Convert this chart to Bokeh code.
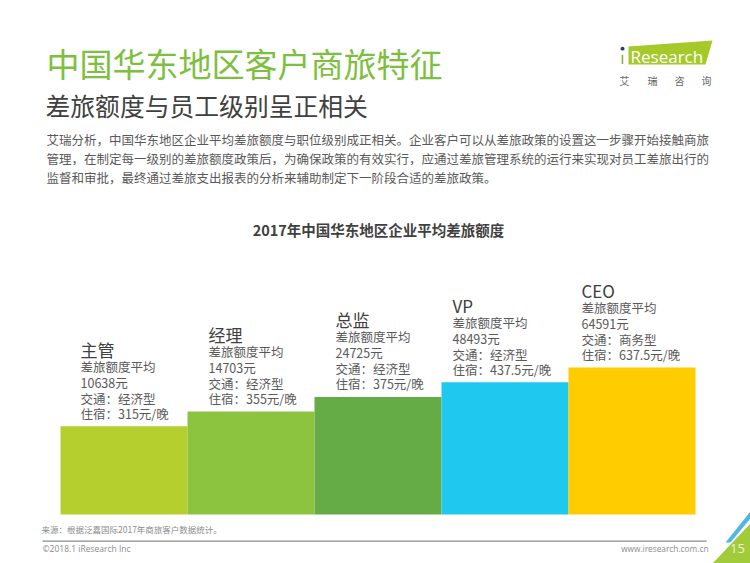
from bokeh.plotting import figure
from bokeh.models import Range1d, Label, PolyAnnotation, ColumnDataSource
from bokeh.core.properties import value
from bokeh.embed import file_html
from bokeh.resources import INLINE

# ---------------- data ----------------
levels = ["主管", "经理", "总监", "VP", "CEO"]
avg_quota = [10638, 14703, 24725, 48493, 64591]          # 差旅额度平均 (元)
transport = ["经济型", "经济型", "经济型", "经济型", "商务型"]
hotel = [315, 355, 375, 437.5, 637.5]                    # 住宿 (元/晚)
bar_steps = [6, 7, 8, 9, 10]                             # relative step height as drawn

title = "中国华东地区客户商旅特征"
subtitle = "差旅额度与员工级别呈正相关"
paragraph = [
    "艾瑞分析，中国华东地区企业平均差旅额度与职位级别成正相关。企业客户可以从差旅政策的设置这一步骤开始接触商旅",
    "管理，在制定每一级别的差旅额度政策后，为确保政策的有效实行，应通过差旅管理系统的运行来实现对员工差旅出行的",
    "监督和审批，最终通过差旅支出报表的分析来辅助制定下一阶段合适的差旅政策。",
]
chart_title = "2017年中国华东地区企业平均差旅额度"
source_note = "来源：根据泛嘉国际2017年商旅客户数据统计。"
copyright_note = "©2018.1 iResearch Inc"
website = "www.iresearch.com.cn"
page_no = "15"

# ---------------- styles ----------------
bar_colors = ["#B4CF2E", "#8CC43F", "#65AB46", "#1FC8EF", "#FFCC00"]
label_dx = [20, 21, 21, 11, 13]
CJK = "Noto Sans CJK SC"
W, H = 750, 563
OX, OY = 0, 0   # page offset of the figure

def sx(xp):   # page x -> frame screen x
    return xp - OX

def sy(yp):   # page y -> frame screen y (from bottom)
    return (H + OY) - yp

# x: bar 0 left edge at page x 60, 127 px per bar; y: baseline at page y 514, 14.7 px per unit
px_x, px_y = 127.0, 14.7
x0 = -0.5 - sx(60) / px_x
y0 = -sy(514) / px_y
p = figure(width=W, height=H, output_backend="svg", toolbar_location=None,
           x_range=Range1d(x0, x0 + W / px_x), y_range=Range1d(y0, y0 + H / px_y),
           x_axis_location=None, y_axis_location=None, min_border=0,
           outline_line_color=None, background_fill_color="white",
           border_fill_color="white")
p.grid.visible = False

n = len(levels)
xs = list(range(n))
left = [x - 0.5 for x in xs]
src = ColumnDataSource(dict(
    x=xs, left=left, top=bar_steps, color=bar_colors, dx=label_dx,
    name=levels,
    l1=["差旅额度平均"] * n,
    l2=[f"{q}元" for q in avg_quota],
    l3=[f"交通：{t}" for t in transport],
    l4=[f"住宿：{h:g}元/晚" for h in hotel],
))

p.vbar(x="x", top="top", bottom=0, width=1.0, fill_color="color",
       line_color=None, source=src)

body_style = dict(text_font=value(CJK), text_font_size="12.5px", text_color="#595959",
                  text_baseline="middle", text_align="left")
p.text(x="left", y="top", text="name", x_offset="dx", y_offset=-77, source=src,
       text_font=value(CJK), text_font_size="17px", text_color="#404040",
       text_baseline="middle", text_align="left")
for col, off in [("l1", -60), ("l2", -44), ("l3", -28), ("l4", -13)]:
    p.text(x="left", y="top", text=col, x_offset="dx", y_offset=off, source=src, **body_style)

def lab(text, xp, yp, size, color, align="left", style="normal", font=CJK):
    p.add_layout(Label(x=sx(xp), y=sy(yp), x_units="screen", y_units="screen",
                       text=text, text_font=font, text_font_size=size,
                       text_color=color, text_align=align, text_baseline="middle",
                       text_font_style=style))

lab(title, 46, 62, "33px", "#7DBF40")
lab(subtitle, 45, 104, "24.8px", "#404040")
for i, line in enumerate(paragraph):
    lab(line, 46, 139 + i * 19, "12.5px", "#595959")
lab(chart_title, 378, 229, "14.5px", "#404040", align="center", style="bold")

# footer
lab(source_note, 41, 528, "8.5px", "#8C8C8C")
p.add_layout(PolyAnnotation(xs=[sx(42), sx(706), sx(706), sx(42)],
                            ys=[sy(540), sy(540), sy(541.3), sy(541.3)],
                            xs_units="screen", ys_units="screen",
                            fill_color="#8C8C8C", line_color=None, fill_alpha=1))
lab(copyright_note, 42, 548, "8.5px", "#8C8C8C", font="Open Sans")
lab(website, 708, 548, "8.3px", "#8C8C8C", align="right", font="Open Sans")

# corner decoration
p.add_layout(PolyAnnotation(xs=[sx(712), sx(750), sx(750)], ys=[sy(563), sy(563), sy(523)],
                            xs_units="screen", ys_units="screen",
                            fill_color="#A2CB3C", line_color=None, fill_alpha=1))
p.add_layout(PolyAnnotation(xs=[sx(750), sx(750), sx(730), sx(725)],
                            ys=[sy(511), sy(518), sy(542), sy(542)],
                            xs_units="screen", ys_units="screen",
                            fill_color="#4FB7E6", line_color=None, fill_alpha=1))
lab(page_no, 737, 548, "13px", "#EEF5C8", align="center", font="Open Sans")

# logo
p.add_layout(PolyAnnotation(xs=[sx(628), sx(712), sx(705), sx(628)],
                            ys=[sy(46), sy(40), sy(64), sy(64)],
                            xs_units="screen", ys_units="screen",
                            fill_color="#A6C92A", line_color=None, fill_alpha=1))
lab("ı", 622, 57, "17px", "#8BA82A", align="center", font="Open Sans")
lab("●", 622, 47, "5px", "#1F3F6B", align="center", font="DejaVu Sans")
lab("Research", 630, 56, "17px", "white", font="Open Sans")
for ch, xp in zip(["艾", "瑞", "咨", "询"], [624, 652, 679, 706]):
    lab(ch, xp, 80, "10px", "#666666", align="center")

open("out.html", "w").write(file_html(p, INLINE))
